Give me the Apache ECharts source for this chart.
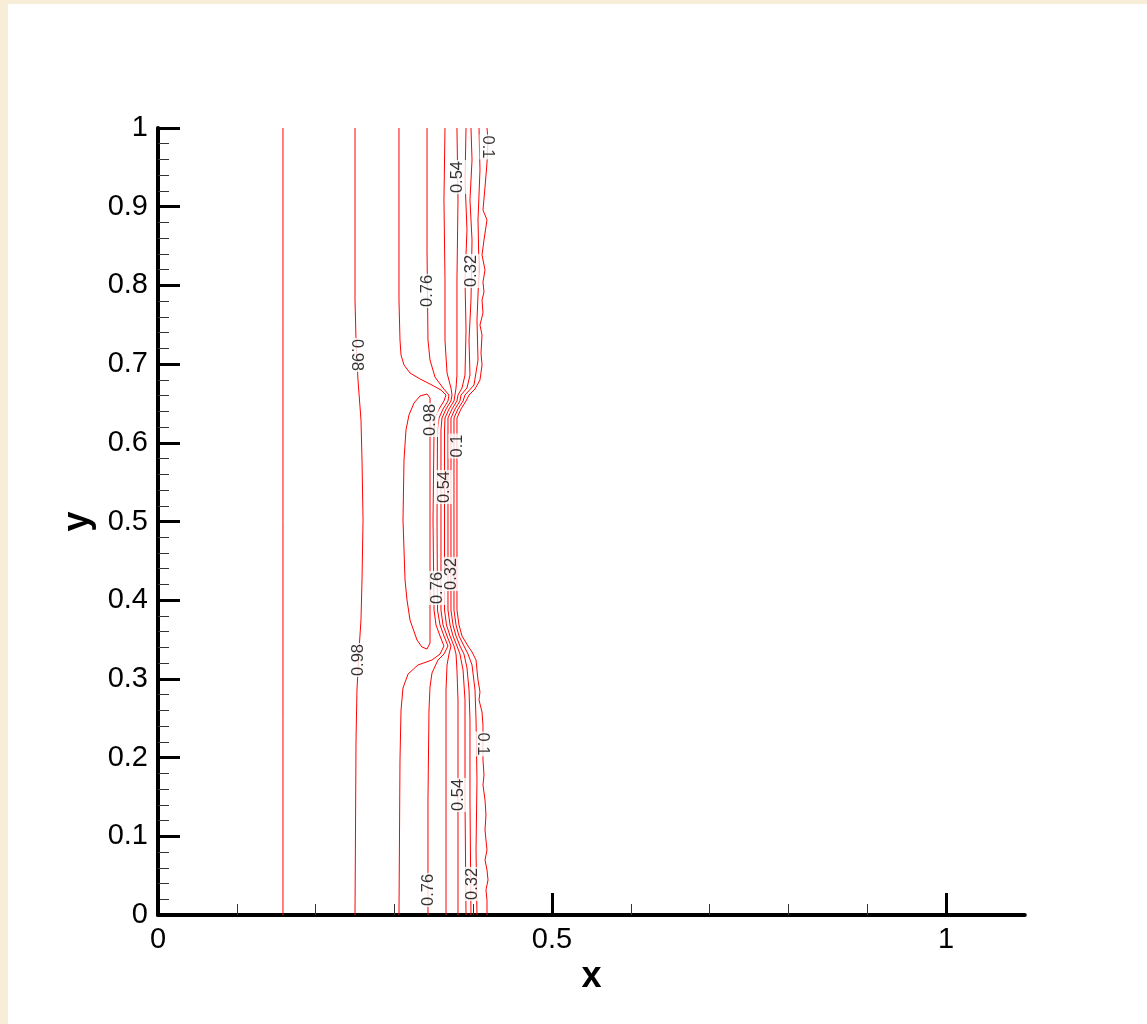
<!DOCTYPE html>
<html><head><meta charset="utf-8">
<script src="https://cdn.jsdelivr.net/npm/echarts@6/dist/echarts.min.js"></script>
<style>
html,body{margin:0;padding:0;background:#f8eed8;width:1147px;height:1024px;overflow:hidden}
#chart{position:absolute;left:8px;top:4px;width:1139px;height:1020px;background:#ffffff}
</style></head><body><div id="chart"></div>
<script>
// ---- tick values ----
const xLabelValues = [0, 0.5, 1];
const xMajorTicks = [0, 0.5, 1];
const xMinorTicks = [0.1, 0.2, 0.3, 0.4, 0.6, 0.7, 0.8, 0.9];

// ---- contour lines [x, y] ----
const c109 = [[0.1586,0],[0.1586,0.25],[0.1586,0.5],[0.1586,0.75],[0.1586,1]];
const c098 = [[0.2500,1.0],[0.2500,0.7814],[0.2513,0.7306],[0.2538,0.6798],[0.2576,0.6290],[0.2589,0.5782],[0.2602,0.5019],[0.2589,0.4257],[0.2576,0.3749],[0.2551,0.3367],[0.2525,0.2859],[0.2513,0.2224],[0.2500,0]];
const c098loop = [[0.3414,0.6620],[0.3452,0.6569],[0.3452,0.6417],[0.3452,0.5909],[0.3452,0.4638],[0.3452,0.3621],[0.3452,0.3456],[0.3414,0.3380],[0.3350,0.3405],[0.3287,0.3494],[0.3198,0.3748],[0.3160,0.4003],[0.3135,0.4257],[0.3109,0.5019],[0.3122,0.5781],[0.3147,0.6163],[0.3185,0.6353],[0.3249,0.6506],[0.3325,0.6595],[0.3414,0.6620]];
const c087 = [[0.3058,1],[0.3058,0.7814],[0.3071,0.7306],[0.3084,0.7116],[0.3122,0.6989],[0.3198,0.6887],[0.3325,0.6811],[0.3477,0.6734],[0.3591,0.6671],[0.3655,0.6607],[0.3629,0.6531],[0.3566,0.6429],[0.3515,0.6315],[0.3503,0.6163],[0.3490,0.5019],[0.3503,0.3875],[0.3528,0.3685],[0.3579,0.3545],[0.3629,0.3418],[0.3579,0.3316],[0.3477,0.3240],[0.3299,0.3177],[0.3173,0.3062],[0.3109,0.2884],[0.3084,0.2605],[0.3071,0.1970],[0.3058,0]];
const c076 = [[0.3414,1],[0.3414,0.8450],[0.3426,0.7306],[0.3452,0.7052],[0.3515,0.6836],[0.3617,0.6696],[0.3693,0.6607],[0.3680,0.6531],[0.3617,0.6429],[0.3566,0.6315],[0.3547,0.6163],[0.3541,0.5019],[0.3547,0.3875],[0.3579,0.3685],[0.3629,0.3545],[0.3680,0.3418],[0.3629,0.3316],[0.3553,0.3240],[0.3477,0.3075],[0.3452,0.2897],[0.3439,0.2605],[0.3426,0.1461],[0.3426,0]];
const c065 = [[0.3642,1],[0.3629,0.9085],[0.3642,0.8069],[0.3642,0.7306],[0.3668,0.6887],[0.3718,0.6696],[0.3731,0.6607],[0.3718,0.6531],[0.3655,0.6429],[0.3604,0.6315],[0.3591,0.6163],[0.3591,0.5019],[0.3591,0.3875],[0.3617,0.3685],[0.3668,0.3545],[0.3718,0.3418],[0.3693,0.3316],[0.3668,0.3177],[0.3655,0.2859],[0.3655,0]];
const c054 = [[0.3794,1],[0.3807,0.9085],[0.3794,0.8069],[0.3794,0.7179],[0.3794,0.6861],[0.3782,0.6696],[0.3769,0.6607],[0.3756,0.6531],[0.3693,0.6429],[0.3642,0.6315],[0.3636,0.6163],[0.3636,0.5019],[0.3636,0.3875],[0.3661,0.3685],[0.3706,0.3545],[0.3756,0.3418],[0.3782,0.3316],[0.3794,0.3113],[0.3807,0.2732],[0.3807,0.1461],[0.3807,0]];
const c043 = [[0.3909,1],[0.3896,0.9339],[0.3921,0.8704],[0.3896,0.8069],[0.3909,0.7433],[0.3896,0.6861],[0.3858,0.6696],[0.3807,0.6607],[0.3794,0.6531],[0.3731,0.6429],[0.3680,0.6315],[0.3680,0.6163],[0.3680,0.5019],[0.3680,0.3875],[0.3706,0.3685],[0.3744,0.3545],[0.3794,0.3418],[0.3832,0.3316],[0.3871,0.3113],[0.3896,0.2732],[0.3896,0.1461],[0.3909,0]];
const c032 = [[0.3972,1],[0.3985,0.9593],[0.3959,0.9085],[0.3985,0.8577],[0.3972,0.7814],[0.3947,0.7306],[0.3959,0.6861],[0.3921,0.6696],[0.3845,0.6607],[0.3832,0.6531],[0.3769,0.6429],[0.3718,0.6315],[0.3718,0.6163],[0.3718,0.5019],[0.3718,0.3875],[0.3744,0.3685],[0.3782,0.3545],[0.3832,0.3418],[0.3883,0.3316],[0.3921,0.3139],[0.3947,0.2859],[0.3959,0.2478],[0.3959,0.1461],[0.3972,0]];
const c021 = [[0.4074,1],[0.4086,0.9466],[0.4061,0.8831],[0.4074,0.8196],[0.4048,0.7560],[0.4061,0.7052],[0.4010,0.6734],[0.3896,0.6607],[0.3871,0.6531],[0.3807,0.6429],[0.3756,0.6315],[0.3756,0.6163],[0.3756,0.5019],[0.3756,0.3875],[0.3782,0.3685],[0.3820,0.3545],[0.3883,0.3418],[0.3934,0.3316],[0.3985,0.3177],[0.4023,0.2859],[0.4036,0.2478],[0.4048,0.1715],[0.4036,0.0826],[0.4048,0]];
const c010 = [[0.4175,1],[0.4188,0.9847],[0.4175,0.9555],[0.4150,0.9250],[0.4124,0.8958],[0.4175,0.8831],[0.4137,0.8577],[0.4112,0.8386],[0.4150,0.8196],[0.4124,0.8043],[0.4137,0.7916],[0.4112,0.7814],[0.4124,0.7649],[0.4086,0.7497],[0.4112,0.7370],[0.4099,0.7141],[0.4112,0.6989],[0.4086,0.6798],[0.4023,0.6684],[0.3947,0.6607],[0.3909,0.6531],[0.3845,0.6429],[0.3794,0.6315],[0.3794,0.6163],[0.3794,0.5019],[0.3794,0.3875],[0.3820,0.3685],[0.3858,0.3545],[0.3934,0.3418],[0.3985,0.3342],[0.4036,0.3240],[0.4048,0.3113],[0.4061,0.2986],[0.4086,0.2834],[0.4074,0.2732],[0.4112,0.2579],[0.4124,0.2414],[0.4124,0.1970],[0.4137,0.1779],[0.4124,0.1652],[0.4150,0.1461],[0.4162,0.1271],[0.4150,0.1080],[0.4162,0.0953],[0.4175,0.0826],[0.4150,0.0699],[0.4175,0.0572],[0.4188,0.0445],[0.4162,0.0318],[0.4175,0.0191],[0.4175,0]];

// ---- contour labels ----
const labelText = ['0.98','0.98','0.76','0.54','0.32','0.1','0.98','0.1','0.54','0.76','0.32','0.1','0.54','0.76','0.32'];
const labelX    = [0.2525,0.2538,0.3414,0.3800,0.3972,0.4188,0.3452,0.3794,0.3636,0.3547,0.3718,0.4124,0.3807,0.3426,0.3985];
const labelY    = [0.7116,0.3240,0.7929,0.9377,0.8183,0.9759,0.6290,0.5959,0.5438,0.4155,0.4333,0.2173,0.1525,0.0318,0.0394];
const labelDir  = ['down','up','up','up','up','down','up','up','up','up','up','down','up','up','up'];

const contours = [c109, c098, c098loop, c087, c076, c065, c054, c043, c032, c021, c010];
const RED = '#ff0000';
const FONT = '"Liberation Sans", Arial, Helvetica, sans-serif';

const series = contours.map(d => ({
  type: 'line', data: d, showSymbol: false, symbol: 'none', silent: true,
  lineStyle: { color: RED, width: 1 }, z: 2
}));
series.push({
  type: 'scatter', silent: true, z: 10, symbolSize: 0,
  data: labelText.map((t, i) => ({
    value: [labelX[i], labelY[i]], text: t,
    label: { rotate: labelDir[i] === 'up' ? 90 : -90 }
  })),
  label: {
    show: true, position: 'inside', align: 'center', verticalAlign: 'middle',
    formatter: p => p.data.text, color: '#000', fontSize: 16.5, fontFamily: FONT,
    backgroundColor: '#ffffff', padding: [0, 1]
  }
});

const chart = echarts.init(document.getElementById('chart'), null, { renderer: 'canvas' });
chart.setOption({
  animation: false,
  backgroundColor: '#ffffff',
  grid: { left: 150, top: 124, width: 866.8, height: 787, containLabel: false },
  xAxis: [{
    type: 'value', min: 0, max: 1.1, position: 'bottom',
    axisLine: { onZero: false, lineStyle: { color: '#000', width: 4, cap: 'round' } },
    axisTick: { inside: true, length: 11, customValues: xMinorTicks, lineStyle: { color: '#333', width: 1 } },
    axisLabel: { customValues: xLabelValues, color: '#000', fontSize: 29, fontFamily: FONT, margin: 10 },
    splitLine: { show: false },
    name: 'x', nameLocation: 'middle', nameGap: 38,
    nameTextStyle: { color: '#000', fontSize: 36, fontWeight: 'bold', fontFamily: FONT }
  }, {
    type: 'value', min: 0, max: 1.1, position: 'bottom',
    axisLine: { show: false },
    axisTick: { inside: true, length: 22, customValues: xMajorTicks, lineStyle: { color: '#000', width: 3 } },
    axisLabel: { show: false }, splitLine: { show: false }
  }],
  yAxis: {
    type: 'value', min: 0, max: 1, interval: 0.1,
    axisLine: { show: true, onZero: false, lineStyle: { color: '#000', width: 4 } },
    axisTick: { inside: true, length: 22, lineStyle: { color: '#000', width: 3 } },
    minorTick: { show: true, splitNumber: 5, length: 11, lineStyle: { color: '#333', width: 1 } },
    splitLine: { show: false }, minorSplitLine: { show: false },
    axisLabel: { color: '#000', fontSize: 29, fontFamily: FONT, margin: 10 },
    name: 'y', nameLocation: 'middle', nameGap: 62, nameRotate: 90,
    nameTextStyle: { color: '#000', fontSize: 36, fontWeight: 'bold', fontFamily: FONT }
  },
  series: series
});
</script></body></html>
